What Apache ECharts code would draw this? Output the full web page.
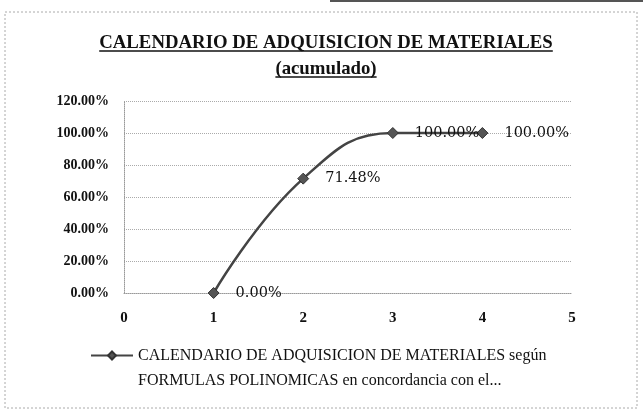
<!DOCTYPE html>
<html>
<head>
<meta charset="utf-8">
<script src="https://cdn.jsdelivr.net/npm/echarts@6/dist/echarts.min.js"></script>
<style>
  html, body { margin: 0; padding: 0; background: #fff; }
  #chart { width: 643px; height: 410px; }
</style>
</head>
<body>
<div id="chart"></div>
<script>
// Accumulated material acquisition schedule
const periods = [1, 2, 3, 4];
const accumulated = [0, 71.48, 100, 100];
const seriesName = 'CALENDARIO DE ADQUISICION DE MATERIALES según\nFORMULAS POLINOMICAS en concordancia con el...';
const titleLines = ['CALENDARIO DE ADQUISICION DE MATERIALES', '(acumulado)'];

const serif = '"Liberation Serif", "DejaVu Serif", serif';
const labelFont = '"DejaVu Serif", serif';
const titleCenterX = 326;

// measure title lines so the underline fits each one
const ctx = document.createElement('canvas').getContext('2d');
const titleFontSize = 18.8;
ctx.font = 'bold ' + titleFontSize + 'px "Liberation Serif"';
const titleTops = [34, 60];

const titleGraphics = [];
titleLines.forEach((line, i) => {
  const w = ctx.measureText(line).width;
  const x0 = titleCenterX - w / 2;
  titleGraphics.push({
    type: 'text',
    x: x0, y: titleTops[i],
    style: { text: line, fontFamily: serif, fontWeight: 'bold', fontSize: titleFontSize, fill: '#111', verticalAlign: 'top' },
    silent: true
  });
  titleGraphics.push({
    type: 'line',
    shape: { x1: x0, y1: titleTops[i] + 17, x2: x0 + w, y2: titleTops[i] + 17 },
    style: { stroke: '#111', lineWidth: 1.6 },
    silent: true
  });
});

const chart = echarts.init(document.getElementById('chart'));

chart.setOption({
  backgroundColor: '#ffffff',
  animation: false,
  graphic: [{
    type: 'rect',
    shape: { x: 5, y: 12, width: 632, height: 396 },
    style: { fill: 'none', stroke: '#aaa', lineWidth: 1, lineDash: [2, 2] },
    silent: true
  }, {
    type: 'rect',
    shape: { x: 330, y: 0, width: 313, height: 2 },
    style: { fill: '#555' },
    silent: true
  }].concat(titleGraphics),
  legend: {
    top: 318,
    left: 90,
    padding: 0,
    itemWidth: 42,
    itemHeight: 10,
    itemGap: 4,
    // leading blank line keeps the marker level with the first text line
    formatter: name => ' \n' + name,
    textStyle: { fontFamily: serif, fontSize: 16, lineHeight: 25, color: '#111' },
    data: [seriesName]
  },
  grid: { left: 124, right: 71, top: 101, bottom: 117 },
  xAxis: {
    type: 'value',
    min: 0, max: 5, interval: 1,
    axisLine: { show: true, lineStyle: { color: '#999', type: 'dotted' } },
    axisTick: { show: false },
    splitLine: { show: false },
    axisLabel: { margin: 18, fontFamily: serif, fontWeight: 'bold', fontSize: 15, color: '#111' }
  },
  yAxis: {
    type: 'value',
    min: 0, max: 120, interval: 20,
    axisLine: { show: true, lineStyle: { color: '#999', type: 'dotted' } },
    axisTick: { show: false },
    splitLine: { show: true, lineStyle: { color: '#aaa', type: 'dotted' } },
    axisLabel: {
      margin: 15,
      fontFamily: serif, fontWeight: 'bold', fontSize: 14, color: '#111',
      formatter: v => v.toFixed(2) + '%'
    }
  },
  series: [{
    name: seriesName,
    type: 'line',
    smooth: 0.45,
    data: periods.map((p, i) => [p, accumulated[i]]),
    symbol: 'diamond',
    symbolSize: 11,
    itemStyle: { color: '#555', borderColor: '#333', borderWidth: 1 },
    lineStyle: { color: '#444', width: 2.5 },
    label: {
      show: true,
      position: 'right',
      distance: 16,
      offset: [0, 3],
      fontFamily: labelFont,
      fontSize: 14.5,
      color: '#111',
      formatter: p => p.value[1].toFixed(2) + '%'
    },
    labelLayout: { hideOverlap: false }
  }]
});
</script>
</body>
</html>
